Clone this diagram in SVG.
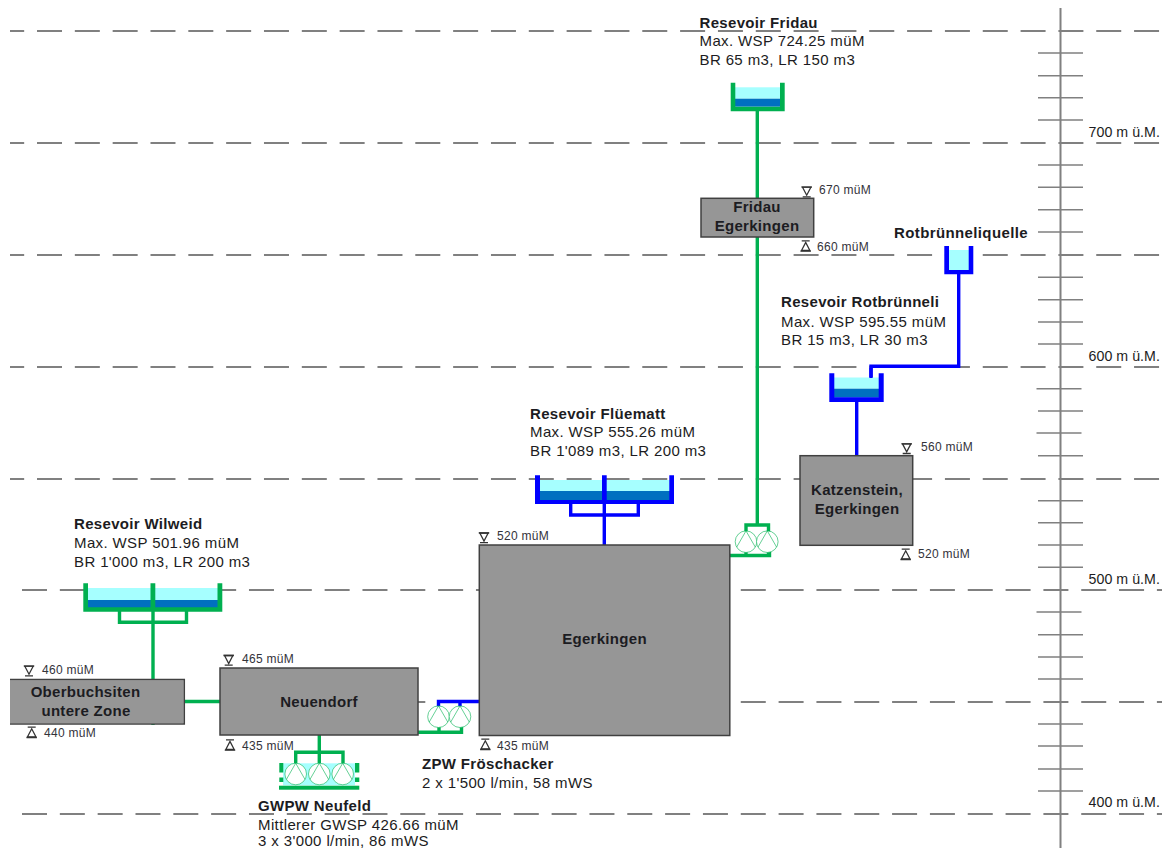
<svg xmlns="http://www.w3.org/2000/svg" width="1167" height="848" viewBox="0 0 1167 848">
<style>
text{font-family:"Liberation Sans",Arial,sans-serif;fill:#1c1c22}
.t{font-size:15px;letter-spacing:.38px}
.s{font-size:14.2px;letter-spacing:.05px}
.b{font-size:15px;font-weight:bold;letter-spacing:.33px}
.c{font-size:15px;font-weight:bold;text-anchor:middle;letter-spacing:.3px}
.l{font-size:12px;letter-spacing:.3px;fill:#33333a}
.dash{stroke:#808080;stroke-width:2;fill:none;stroke-dasharray:25 12.83}
.tick{stroke:#808080;stroke-width:1.6;fill:none}
.box{fill:#969696;stroke:#404040;stroke-width:1.5}
.g{stroke:#00b050;stroke-width:3.400;fill:none}
.bl{stroke:#0000ff;stroke-width:3.400;fill:none}
.gf{fill:#00b050}.bf{fill:#0000ff}
.lw{fill:#a6ffff}.dw{fill:#0070c0}
.pump{stroke:#00b050;stroke-width:1;fill:#fff;stroke-opacity:.6}
.mk{stroke:#333;stroke-width:1.300;fill:#fff}
</style>
<defs>
<g id="dn"><path class="mk" d="M-4.200-4.500H4.200L0 3.500Z"/><path class="mk" d="M-5.200-4.500H5.200M-4 5.200H4"/></g>
<g id="up"><path class="mk" d="M-4.200 4.500H4.200L0-3.500Z"/><path class="mk" d="M-5.200 5.200H5.200M-4-5.200H4"/></g>
<g id="p"><circle class="pump" r="10.800"/><path class="pump" style="fill:none" d="M0-10.800L-9.300 5.400M0-10.800L9.300 5.400"/></g>
</defs>
<g id="grid">
<path class="dash" stroke-dashoffset="10.83" d="M10 31H1160M10 143H1160M10 255H1160M10 367H1160M10 479H1160"/>
<path class="dash" d="M22 590H1162M22 702H1162M22 814H1162"/>
</g>
<g id="scale">
<path class="tick" style="stroke-width:2" d="M1060.500 8V848"/>
<path class="tick" d="M1038 53H1083M1038 75.700H1083M1038 97.700H1083M1038 120H1083M1038 165H1083M1038 187.300H1083M1038 209.700H1083M1038 232H1083M1038 277.300H1083M1038 299.700H1083M1038 322H1083M1038 344H1083M1036.500 388.700H1081.500M1038 411H1083M1036.500 433H1081.500M1038 455.700H1083M1038 500.700H1083M1038 522.700H1083M1038 545H1083M1038 567.300H1083M1036.500 612H1081.500M1038 634.700H1083M1038 657H1083M1038 679H1083M1038 724H1083M1038 746H1083M1038 769H1083M1038 791H1083"/>
<text class="s" x="1088.500" y="137">700 m ü.M.</text>
<text class="s" x="1088.500" y="361">600 m ü.M.</text>
<text class="s" x="1088.500" y="583.500">500 m ü.M.</text>
<text class="s" x="1088.500" y="807">400 m ü.M.</text>
</g>
<g id="connectors">
<path class="g" d="M153 607V725M119.500 610V622.300H186.500V610"/>
<path class="g" d="M184 701.500H220"/>
<path class="g" d="M757.300 110V526M746 532V525H768.500V532M746 552V555.500M768.500 552V555.500M730 555.500H769.500V550"/>
<path class="g" d="M319.300 735V765M295.700 765V752.300H343V765"/>
<path class="g" d="M418 732.300H461.500V725M439 725V732.300"/>
<path class="bl" d="M438.500 708V701.500H479M460 701.500V708"/>
<path class="bl" d="M604.300 503V545M570.700 503V515H638.300V503"/>
<path class="bl" d="M958.700 272V366.300H871V377"/>
<path class="bl" d="M856.700 400V456"/>
</g>
<g id="res-wilweid">
<rect class="lw" x="88" y="588" width="130" height="12"/><rect class="dw" x="88" y="600" width="130" height="8"/>
<path class="gf" d="M83.300 583.300H88V607.300H150.500V583.300H155.300V607.300H217.500V583.300H222.300V611.700H83.300Z"/>
<text class="b" x="74" y="529">Resevoir Wilweid</text><text class="t" x="74" y="548">Max. WSP 501.96 müM</text><text class="t" x="74" y="567">BR 1'000 m3, LR 200 m3</text>
</g>
<g id="res-fluematt">
<rect class="lw" x="540" y="480" width="130" height="11"/><rect class="dw" x="540" y="491" width="130" height="9"/>
<path class="bf" d="M535 475.300H540V500H602V475.300H606.700V500H669.300V475.300H674V504H535Z"/>
<text class="b" x="530" y="418.500">Resevoir Flüematt</text><text class="t" x="530" y="437">Max. WSP 555.26 müM</text><text class="t" x="530" y="456">BR 1'089 m3, LR 200 m3</text>
</g>
<g id="res-fridau">
<rect class="lw" x="735" y="87.300" width="45" height="11.400"/><rect class="dw" x="735" y="98.700" width="45" height="8"/>
<path class="gf" d="M730.700 82.700H735.300V106.700H780V82.700H784.700V111.300H730.700Z"/>
<text class="b" x="699.500" y="27.500">Resevoir Fridau</text><text class="t" x="699.500" y="46">Max. WSP 724.25 müM</text><text class="t" x="699.500" y="65">BR 65 m3, LR 150 m3</text>
</g>
<g id="res-rotbrunneli">
<rect class="lw" x="834" y="377.500" width="45" height="11.200"/><rect class="dw" x="834" y="388.700" width="45" height="8.800"/>
<path class="bf" d="M829.300 373.300H834.300V397.300H878.700V373.300H883.700V402H829.300Z"/>
<path class="bl" d="M871 368V378"/>
<text class="b" x="781" y="307.300">Resevoir Rotbrünneli</text><text class="t" x="781" y="326.500">Max. WSP 595.55 müM</text><text class="t" x="781" y="345">BR 15 m3, LR 30 m3</text>
</g>
<g id="quelle-rotbrunneli">
<rect class="lw" x="949" y="250" width="20" height="20"/>
<path class="bf" d="M944.300 246H949V270H968.700V246H973.300V274.300H944.300Z"/>
<text class="b" x="894" y="238" style="letter-spacing:.38px">Rotbrünneliquelle</text>
</g>
<g id="node-oberbuchsiten">
<path class="box" d="M10 679.500H184.300V724H10"/><rect x="10" y="680.300" width="173.500" height="43" fill="#969696"/>
<text class="c" x="85.500" y="696.700">Oberbuchsiten</text><text class="c" x="86" y="716">untere Zone</text>
<use href="#dn" x="29" y="670.700"/><text class="l" x="42" y="674">460 müM</text>
<use href="#up" x="31.700" y="732.300"/><text class="l" x="44" y="736.500">440 müM</text>
</g>
<g id="node-neuendorf">
<rect class="box" x="220" y="668" width="198" height="67"/>
<text class="c" x="319" y="706.500">Neuendorf</text>
<use href="#dn" x="228.700" y="660"/><text class="l" x="242" y="663">465 müM</text>
<use href="#up" x="230" y="745"/><text class="l" x="242" y="749.500">435 müM</text>
</g>
<g id="node-egerkingen">
<rect class="box" x="479.300" y="545" width="250.500" height="190.500"/>
<text class="c" x="604.500" y="644">Egerkingen</text>
<use href="#dn" x="484" y="537.500"/><text class="l" x="497" y="540">520 müM</text>
<use href="#up" x="485.300" y="744.300"/><text class="l" x="497" y="750">435 müM</text>
</g>
<g id="node-fridau">
<rect class="box" x="701" y="198.300" width="112.700" height="38.700"/>
<text class="c" x="757" y="212.300">Fridau</text><text class="c" x="757" y="231.300">Egerkingen</text>
<use href="#dn" x="806.700" y="191.700"/><text class="l" x="819" y="194">670 müM</text>
<use href="#up" x="805.700" y="246"/><text class="l" x="817" y="251">660 müM</text>
</g>
<g id="node-katzenstein">
<rect class="box" x="800" y="455.700" width="112.700" height="89.600"/>
<text class="c" x="857" y="495">Katzenstein,</text><text class="c" x="857" y="514.300">Egerkingen</text>
<use href="#dn" x="906.700" y="448.300"/><text class="l" x="921" y="451">560 müM</text>
<use href="#up" x="905.700" y="554.300"/><text class="l" x="918" y="558">520 müM</text>
</g>
<g id="pump-egerkingen">
<use href="#p" x="746" y="541.700"/><use href="#p" x="767.300" y="541.700"/>
</g>
<g id="pump-froschacker">
<use href="#p" x="438.500" y="716.700"/><use href="#p" x="460" y="716.700"/>
<text class="b" x="422" y="769">ZPW Fröschacker</text><text class="t" x="422" y="787.700">2 x 1'500 l/min, 58 mWS</text>
</g>
<g id="pump-neufeld">
<rect class="lw" x="283" y="763.300" width="72" height="22"/>
<rect class="gf" x="279.300" y="763" width="4" height="9.500"/><rect class="gf" x="279.300" y="777.500" width="4" height="4.500"/>
<rect class="gf" x="355" y="763" width="4.300" height="9.500"/><rect class="gf" x="355" y="777.500" width="4.300" height="4.500"/>
<rect class="gf" x="279" y="785.700" width="80.300" height="4"/>
<use href="#p" x="295.700" y="774"/><use href="#p" x="319.300" y="774"/><use href="#p" x="342.700" y="774"/>
<text class="b" x="258" y="811">GWPW Neufeld</text><text class="t" x="258" y="829.500">Mittlerer GWSP 426.66 müM</text><text class="t" x="258" y="846">3 x 3'000 l/min, 86 mWS</text>
</g>
</svg>
